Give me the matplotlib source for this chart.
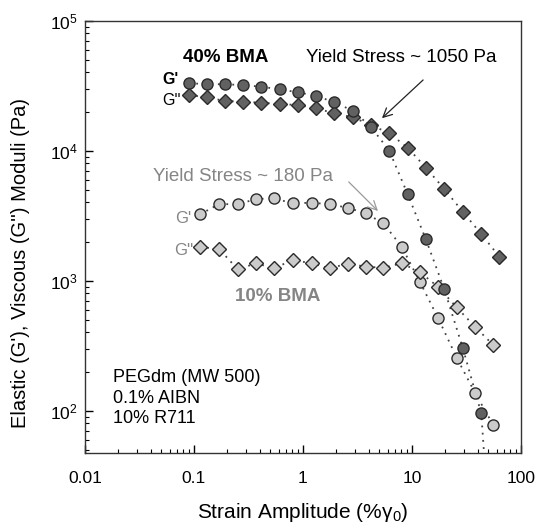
import matplotlib
matplotlib.use('Agg')
import matplotlib.pyplot as plt

plt.rcParams['font.family'] = ['Liberation Sans', 'DejaVu Sans']
plt.rcParams['mathtext.fontset'] = 'custom'
plt.rcParams['mathtext.rm'] = 'Liberation Sans'
plt.rcParams['mathtext.it'] = 'Liberation Sans'

# 40% BMA
strain_40 = [0.090, 0.131, 0.193, 0.283, 0.412, 0.615, 0.894, 1.31, 1.94, 2.86,
             4.21, 6.19, 9.14, 13.4, 19.8, 29.2, 43.2, 63.2]
g1_40 = [33000, 32600, 32400, 32000, 31060, 29670, 28130, 26500, 23570, 20310,
         15220, 10000, 4620, 2082, 859, 305, 95.5, 1.0]
g2_40 = [26820, 25760, 24120, 23830, 23400, 22870, 22470, 21200, 19400, 18070,
         15770, 13610, 10540, 7400, 5075, 3395, 2286, 1530]

# 10% BMA
strain_10 = [0.1135, 0.171, 0.252, 0.371, 0.542, 0.804, 1.20, 1.77, 2.57, 3.76,
             5.46, 8.05, 11.8, 17.4, 25.7, 37.8, 55.7]
g1_10 = [3243, 3890, 3870, 4250, 4300, 3939, 3981, 3870, 3643, 3300,
         2763, 1826, 982, 514, 256, 137.6, 77.6]
g2_10 = [1826, 1744, 1224, 1361, 1246, 1443, 1361, 1246, 1356, 1282,
         1259, 1361, 1167, 894, 624, 443, 320]

dark = '#616161'
light = '#cbcbcb'
edge = '#2a2a2a'
gray_txt = '#858585'
dots = (0, (1, 3))

fig = plt.figure(figsize=(5.4, 5.31), dpi=100)
ax = fig.add_axes([0.1574, 0.1469, 0.8074, 0.8141])

ax.plot(strain_40[:-1], g1_40[:-1], ls='none', marker='o', ms=8, mfc=dark, mec=edge, mew=1.0, zorder=3)
ax.plot(strain_40, g1_40, ls=dots, color='#444444', lw=1.3, zorder=2)
ax.plot(strain_40, g2_40, ls=dots, color='#444444', lw=1.3, zorder=2,
        marker='D', ms=7, mfc=dark, mec=edge, mew=1.0)
ax.plot(strain_10, g1_10, ls=dots, color='#444444', lw=1.3, zorder=2,
        marker='o', ms=8, mfc=light, mec=edge, mew=1.0)
ax.plot(strain_10, g2_10, ls=dots, color='#444444', lw=1.3, zorder=2,
        marker='D', ms=7, mfc=light, mec=edge, mew=1.0)

ax.set_xscale('log')
ax.set_yscale('log')
ax.set_xlim(0.01, 100)
ax.set_ylim(47.3, 1e5)
ax.set_xticks([0.01, 0.1, 1, 10, 100])
ax.set_xticklabels(['0.01', '0.1', '1', '10', '100'])
ax.tick_params(which='both', direction='in', top=False, right=False, labelsize=12.5)
ax.tick_params(which='major', length=6, width=1.0)
ax.tick_params(which='minor', length=3, width=0.8)
ax.tick_params(axis='x', pad=13)
ax.tick_params(axis='y', pad=5)
for s in ax.spines.values():
    s.set_linewidth(1.0)
    s.set_color('#333333')

ax.set_xlabel('Strain Amplitude (%γ$_0$)', fontsize=15, labelpad=11)
ax.set_ylabel("Elastic (G'), Viscous (G'') Moduli (Pa)", fontsize=14.5, labelpad=4)
ax.yaxis.set_label_coords(-0.125, 0.44)

ax.text(0.079, 5.17e4, '40% BMA', fontsize=13.5, fontweight='bold', va='center', zorder=5)
ax.text(1.065, 5.17e4, 'Yield Stress ~ 1050 Pa', fontsize=13.5, va='center', zorder=5)
ax.text(0.0515, 3.5e4, "G'", fontsize=11.5, fontweight='bold', va='center', zorder=5)
ax.text(0.0515, 2.45e4, "G''", fontsize=11.5, va='center', zorder=5)
ax.annotate('', xy=(5.08, 1.72e4), xytext=(13.2, 3.62e4),
            arrowprops=dict(arrowstyle='->', color='#222222', lw=0.9, mutation_scale=16))

ax.text(0.042, 6.28e3, 'Yield Stress ~ 180 Pa', fontsize=13.5, color=gray_txt, va='center', zorder=5)
ax.annotate('', xy=(5.08, 3.32e3), xytext=(2.52, 5.96e3),
            arrowprops=dict(arrowstyle='->', color='#9a9a9a', lw=0.9, mutation_scale=16))
ax.text(0.0675, 3.03e3, "G'", fontsize=12, color=gray_txt, va='center', zorder=5)
ax.text(0.0655, 1.72e3, "G''", fontsize=12, color=gray_txt, va='center', zorder=5)
ax.text(0.238, 7.5e2, '10% BMA', fontsize=13.5, fontweight='bold', color=gray_txt, va='center', zorder=5)

ax.text(0.0181, 1.25e2, 'PEGdm (MW 500)\n0.1% AIBN\n10% R711', fontsize=13,
        va='center', linespacing=1.25, zorder=5)

fig.savefig('out.png', dpi=100)
